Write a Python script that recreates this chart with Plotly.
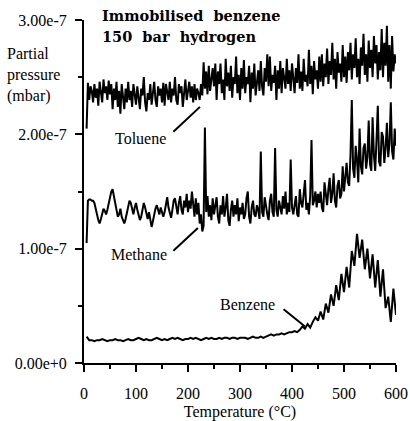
import plotly.graph_objects as go

# Partial pressures in units of 1e-7 mbar
# Toluene and methane sampled every 2.5 °C from 5 °C; benzene every 5 °C from 5 °C
toluene = [
    2.05, 2.45, 2.30, 2.42, 2.38, 2.28, 2.44, 2.32, 2.40, 2.25, 2.46, 2.34, 2.28, 2.48, 2.36, 2.42, 2.30, 2.47, 2.35, 2.44,
    2.22, 2.40, 2.30, 2.46, 2.24, 2.38, 2.18, 2.44, 2.32, 2.22, 2.40, 2.28, 2.46, 2.30, 2.38, 2.24, 2.44, 2.34, 2.26, 2.42,
    2.30, 2.22, 2.40, 2.34, 2.50, 2.28, 2.20, 2.36, 2.30, 2.44, 2.26, 2.38, 2.46, 2.30, 2.24, 2.42, 2.34, 2.40, 2.28, 2.45,
    2.25, 2.44, 2.36, 2.30, 2.46, 2.28, 2.40, 2.34, 2.50, 2.30, 2.26, 2.44, 2.36, 2.42, 2.24, 2.38, 2.48, 2.30, 2.40, 2.46,
    2.32, 2.42, 2.28, 2.44, 2.30, 2.40, 2.36, 2.30, 2.44, 2.34, 2.63, 2.40, 2.55, 2.35, 2.60, 2.38, 2.48, 2.58, 2.42, 2.62,
    2.30, 2.55, 2.44, 2.62, 2.36, 2.48, 2.30, 2.66, 2.42, 2.54, 2.38, 2.60, 2.32, 2.50, 2.44, 2.68, 2.36, 2.52, 2.30, 2.58,
    2.40, 2.65, 2.36, 2.50, 2.44, 2.60, 2.28, 2.54, 2.40, 2.62, 2.34, 2.48, 2.56, 2.38, 2.64, 2.42, 2.34, 2.58, 2.46, 2.70,
    2.42, 2.68, 2.38, 2.52, 2.45, 2.60, 2.30, 2.56, 2.40, 2.64, 2.36, 2.58, 2.48, 2.40, 2.66, 2.44, 2.56, 2.38, 2.62, 2.50,
    2.36, 2.58, 2.45, 2.70, 2.40, 2.55, 2.38, 2.66, 2.46, 2.52, 2.42, 2.74, 2.44, 2.60, 2.35, 2.64, 2.48, 2.56, 2.40, 2.68,
    2.46, 2.70, 2.42, 2.62, 2.50, 2.75, 2.44, 2.64, 2.52, 2.80, 2.48, 2.66, 2.40, 2.72, 2.54, 2.62, 2.46, 2.78, 2.50, 2.68,
    2.45, 2.72, 2.56, 2.80, 2.48, 2.70, 2.58, 2.84, 2.50, 2.66, 2.44, 2.76, 2.60, 2.88, 2.52, 2.70, 2.46, 2.82, 2.58, 2.74,
    2.50, 2.86, 2.62, 2.78, 2.48, 2.72, 2.56, 2.92, 2.50, 2.80, 2.60, 2.95, 2.46, 2.78, 2.40, 2.86, 2.55, 2.70, 2.62,
]

methane = [
    1.05, 1.42, 1.43, 1.43, 1.42, 1.42, 1.40, 1.36, 1.30, 1.25, 1.22, 1.26, 1.32, 1.35, 1.33, 1.30, 1.34, 1.40, 1.46, 1.50,
    1.52, 1.45, 1.38, 1.32, 1.28, 1.30, 1.35, 1.28, 1.24, 1.22, 1.26, 1.32, 1.38, 1.42, 1.40, 1.34, 1.30, 1.36, 1.40, 1.34,
    1.28, 1.25, 1.28, 1.34, 1.40, 1.36, 1.30, 1.26, 1.32, 1.25, 1.19, 1.24, 1.30, 1.35, 1.38, 1.34, 1.30, 1.36, 1.32, 1.28,
    1.32, 1.40, 1.45, 1.36, 1.30, 1.27, 1.34, 1.42, 1.44, 1.36, 1.30, 1.40, 1.46, 1.34, 1.30, 1.42, 1.36, 1.48, 1.32, 1.42,
    1.35, 1.50, 1.38, 1.28, 1.44, 1.30, 1.40, 1.22, 1.30, 1.15, 1.20, 2.06, 1.32, 1.46, 1.28, 1.38, 1.25, 1.44, 1.30, 1.36,
    1.45, 1.28, 1.22, 1.38, 1.30, 1.46, 1.28, 1.36, 1.48, 1.25, 1.20, 1.34, 1.42, 1.28, 1.38, 1.30, 1.44, 1.24, 1.36, 1.30,
    1.40, 1.26, 1.30, 1.44, 1.50, 1.28, 1.22, 1.36, 1.42, 1.30, 1.28, 1.38, 1.34, 1.26, 1.85, 1.32, 1.28, 1.45, 1.36, 1.30,
    1.25, 1.42, 1.48, 1.32, 1.28, 1.88, 1.34, 1.28, 1.42, 1.36, 1.30, 1.46, 1.35, 1.50, 1.30, 1.40, 1.32, 1.78, 1.36, 1.30,
    1.38, 1.46, 1.30, 1.28, 1.52, 1.40, 1.36, 1.48, 1.60, 1.34, 1.40, 1.30, 1.46, 1.95, 1.38, 1.42, 1.50, 1.36, 1.48, 1.40,
    1.50, 1.36, 1.32, 1.58, 1.44, 1.38, 1.52, 1.62, 1.40, 1.48, 1.66, 1.42, 1.36, 1.55, 1.60, 1.44, 1.48, 1.72, 1.50, 1.62,
    1.75, 1.58, 1.55, 1.82, 2.30, 1.70, 1.62, 1.90, 1.78, 1.58, 2.05, 1.72, 1.65, 1.88, 1.92, 1.70, 1.80, 2.12, 1.74, 1.68,
    2.15, 1.82, 1.68, 1.95, 2.25, 1.76, 1.72, 2.02, 1.98, 1.75, 1.88, 2.10, 1.80, 1.92, 2.28, 1.85, 1.78, 2.05, 1.90,
]

benzene = [
    0.23, 0.20, 0.20, 0.19, 0.20, 0.20, 0.21, 0.20, 0.19, 0.20,
    0.20, 0.21, 0.20, 0.20, 0.19, 0.20, 0.21, 0.20, 0.20, 0.21,
    0.22, 0.21, 0.20, 0.21, 0.20, 0.20, 0.21, 0.22, 0.21, 0.20,
    0.21, 0.20, 0.21, 0.22, 0.21, 0.22, 0.21, 0.20, 0.21, 0.21,
    0.22, 0.21, 0.22, 0.21, 0.20, 0.21, 0.22, 0.21, 0.22, 0.21,
    0.21, 0.22, 0.21, 0.22, 0.22, 0.21, 0.22, 0.22, 0.21, 0.22,
    0.22, 0.22, 0.21, 0.22, 0.23, 0.22, 0.22, 0.23, 0.22, 0.23,
    0.24, 0.25, 0.24, 0.25, 0.25, 0.26, 0.25, 0.26, 0.27, 0.27,
    0.28, 0.27, 0.29, 0.32, 0.30, 0.34, 0.31, 0.36, 0.40, 0.37,
    0.45, 0.38, 0.52, 0.44, 0.60, 0.50, 0.68, 0.55, 0.78, 0.62,
    0.84, 0.66, 0.98, 0.85, 1.13, 0.92, 1.08, 0.82, 1.00, 0.74,
    0.95, 0.66, 0.90, 0.58, 0.82, 0.48, 0.58, 0.36, 0.65, 0.42,
]

# Sample temperatures (°C)
temp_toluene = [5 + 2.5 * i for i in range(len(toluene))]
temp_methane = [5 + 2.5 * i for i in range(len(methane))]
temp_benzene = [5 + 5 * i for i in range(len(benzene))]

UNIT = 1e-7

series_names = ["Toluene", "Methane", "Benzene"]
series_temps = [temp_toluene, temp_methane, temp_benzene]
series_values = [toluene, methane, benzene]

# Label text position (T, p/1e-7) and pointer line (from, to)
label_pos = [(108, 1.96), (106, 0.95), (314, 0.51)]
pointer_from = [(169, 2.01), (169, 0.97), (381, 0.48)]
pointer_to = [(223, 2.24), (219, 1.18), (425, 0.32)]

x_ticks = [0, 100, 200, 300, 400, 500, 600]
y_ticks = [0, 1e-7, 2e-7, 3e-7]
y_tick_labels = ["0.00e+0", "1.00e-7", "2.00e-7", "3.00e-7"]

FONT = "Liberation Serif"

fig = go.Figure()
for name, temps, vals in zip(series_names, series_temps, series_values):
    fig.add_trace(go.Scatter(
        x=temps, y=[v * UNIT for v in vals], mode="lines",
        line=dict(color="black", width=2), name=name, showlegend=False,
    ))

for name, lp, pf, pt in zip(series_names, label_pos, pointer_from, pointer_to):
    fig.add_annotation(x=lp[0], y=lp[1] * UNIT, xref="x", yref="y", text=name,
                       showarrow=False, font=dict(family=FONT, size=16, color="black"))
    fig.add_annotation(x=pt[0], y=pt[1] * UNIT, ax=pf[0], ay=pf[1] * UNIT,
                       xref="x", yref="y", axref="x", ayref="y", text="",
                       showarrow=True, arrowhead=0, arrowwidth=2, arrowcolor="black")

fig.add_annotation(x=0.051, y=1.012, xref="paper", yref="paper", xanchor="left", yanchor="middle",
                   text="<b>Immobilised  benzene</b>", showarrow=False,
                   font=dict(family="DejaVu Serif", size=14.5, color="black"))
fig.add_annotation(x=0.051, y=0.951, xref="paper", yref="paper", xanchor="left", yanchor="middle",
                   text="<b>150  bar  hydrogen</b>", showarrow=False,
                   font=dict(family="DejaVu Serif", size=14.5, color="black"))
fig.add_annotation(x=-0.253, y=0.839, xref="paper", yref="paper", xanchor="left", yanchor="middle",
                   align="left", text="Partial<br>pressure<br>(mbar)", showarrow=False,
                   font=dict(family=FONT, size=16, color="black"))

fig.update_xaxes(
    range=[0, 600], tickvals=x_ticks, automargin=False,
    showline=True, linewidth=2, linecolor="black", showgrid=False, zeroline=False,
    ticks="outside", ticklen=7, tickwidth=2, tickcolor="black", ticklabelstandoff=8,
    minor=dict(dtick=50, ticks="outside", ticklen=4, tickwidth=1.5, tickcolor="black", showgrid=False),
    tickfont=dict(family=FONT, size=16, color="black"),
    title=dict(text="Temperature (°C)", font=dict(family=FONT, size=16, color="black"), standoff=8),
)
fig.update_yaxes(
    range=[0, 3e-7], tickvals=y_ticks, ticktext=y_tick_labels, automargin=False,
    showline=True, linewidth=2, linecolor="black", showgrid=False, zeroline=False,
    ticks="outside", ticklen=7, tickwidth=2, tickcolor="black", ticklabelstandoff=5,
    minor=dict(dtick=0.5e-7, ticks="outside", ticklen=4, tickwidth=1.5, tickcolor="black", showgrid=False),
    tickfont=dict(family=FONT, size=16, color="black"),
)

fig.update_layout(
    width=410, height=421,
    margin=dict(l=84, r=14, t=20, b=58),
    plot_bgcolor="white", paper_bgcolor="white",
    font=dict(family=FONT, size=16, color="black"),
)

fig.write_html("out.html", config={"displayModeBar": False},
               post_script="document.body.style.margin='0';document.body.style.padding='0';")
